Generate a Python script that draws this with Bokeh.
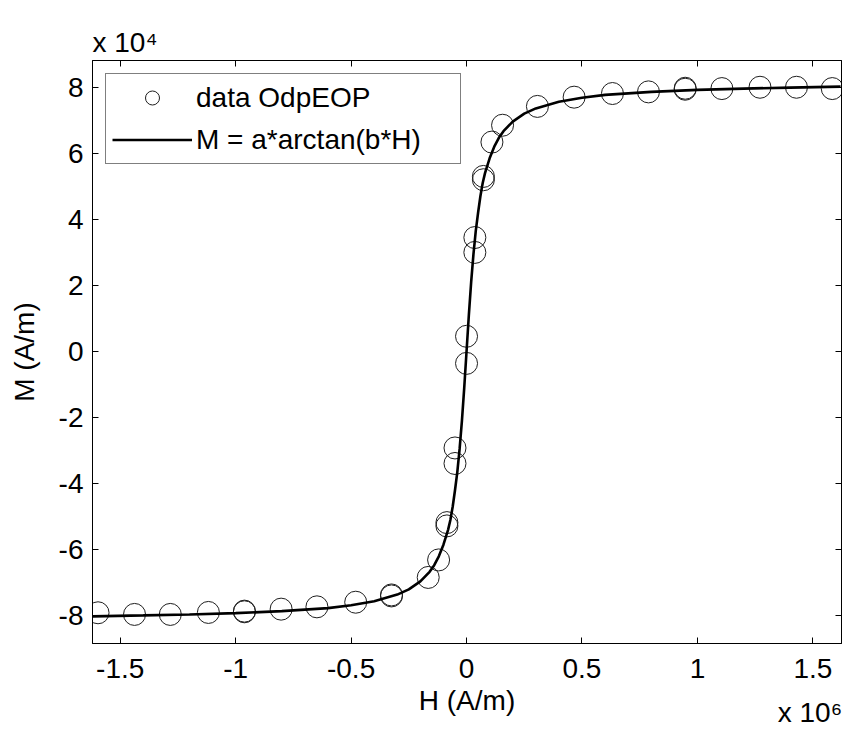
from bokeh.plotting import figure
from bokeh.models import (Range1d, LinearAxis, FixedTicker, Legend, LegendItem,
                          Title, CustomLabelingPolicy)
from bokeh.embed import file_html
from bokeh.resources import INLINE

# Values are in units of 10^6 A/m (H) and 10^4 A/m (M)
SUPERSCRIPT = {"4": "\u2074", "6": "\u2076"}
H_EXPONENT = "6"
M_EXPONENT = "4"

h_data = [-1.596, -1.438, -1.283, -1.118, -0.962, -0.962, -0.803, -0.648, -0.480,
          -0.325, -0.325, -0.166, -0.121, -0.085, -0.085, -0.050, -0.050, 0.0, 0.0,
          0.036, 0.036, 0.073, 0.073, 0.110, 0.156, 0.307, 0.466, 0.632, 0.788,
          0.947, 0.947, 1.106, 1.271, 1.429, 1.584]
m_data = [-7.91, -7.96, -7.96, -7.90, -7.86, -7.88, -7.80, -7.73, -7.59,
          -7.37, -7.40, -6.84, -6.31, -5.18, -5.28, -2.92, -3.39, -0.36, 0.46,
          3.00, 3.45, 5.20, 5.30, 6.34, 6.85, 7.42, 7.70, 7.81, 7.86,
          7.94, 7.97, 7.96, 8.00, 8.00, 7.96]

fit_h = [-1.62, -1.4, -1.2, -1.0, -0.8, -0.6, -0.5, -0.4, -0.3, -0.25, -0.2, -0.16,
         -0.14, -0.12, -0.1, -0.08, -0.07, -0.06, -0.05, -0.04, -0.03, -0.02, -0.01,
         0.0, 0.01, 0.02, 0.03, 0.04, 0.05, 0.06, 0.07, 0.08, 0.1, 0.12, 0.14, 0.16,
         0.2, 0.25, 0.3, 0.4, 0.5, 0.6, 0.8, 1.0, 1.2, 1.4, 1.62]
fit_m = [-8.02, -7.99, -7.96, -7.92, -7.86, -7.77, -7.68, -7.56, -7.36, -7.20, -6.96, -6.67,
         -6.47, -6.20, -5.85, -5.40, -5.10, -4.70, -4.20, -3.65, -2.95, -2.10, -1.10,
         0.0, 1.10, 2.10, 2.95, 3.65, 4.20, 4.70, 5.10, 5.40, 5.85, 6.20, 6.47, 6.67,
         6.96, 7.20, 7.36, 7.56, 7.68, 7.77, 7.86, 7.92, 7.96, 7.99, 8.02]

x_ticks = [-1.5, -1.0, -0.5, 0.0, 0.5, 1.0, 1.5]
x_tick_labels = ["-1.5", "-1", "-0.5", "0", "0.5", "1", "1.5"]
y_ticks = [-8, -6, -4, -2, 0, 2, 4, 6, 8]
y_tick_labels = ["-8", "-6", "-4", "-2", "0", "2", "4", "6", "8"]

X_MIN, X_MAX = -1.62, 1.624
Y_MIN, Y_MAX = -8.84, 8.81
H_EXP_POS = 1.49   # where the "x 10^6" note sits along the H axis

FONT = "Liberation Sans"
FS = "28px"

p = figure(width=842, height=734,
           x_range=Range1d(X_MIN, X_MAX), y_range=Range1d(Y_MIN, Y_MAX),
           output_backend="svg", toolbar_location=None,
           min_border_left=92, min_border_right=1, min_border_top=60, min_border_bottom=91,
           x_axis_label="H (A/m)", y_axis_label="M (A/m)")
p.grid.visible = False
p.outline_line_color = "#000000"
p.outline_line_width = 1
p.background_fill_color = "white"
p.border_fill_color = "white"

sc = p.scatter(h_data, m_data, marker="circle", size=22, fill_color=None,
               line_color="#1e1e1e", line_width=1)
ln = p.line(fit_h, fit_m, line_color="black", line_width=2.6)

hide_labels = CustomLabelingPolicy(code="""
for (const i of Array.from(indices)) { indices.unset(i) }
return indices
""")


def style(ax, ticks, labels, show):
    ax.ticker = FixedTicker(ticks=ticks)
    ax.major_tick_in = 6
    ax.major_tick_out = 0
    ax.minor_tick_line_color = None
    ax.axis_line_color = "#000000"
    ax.major_tick_line_color = "#000000"
    ax.major_label_text_font = FONT
    ax.major_label_text_font_size = FS
    ax.major_label_text_color = "black"
    if show:
        ax.major_label_overrides = {t: l for t, l in zip(ticks, labels)}
    else:
        ax.major_label_overrides = {t: "" for t in ticks}
        ax.major_label_policy = hide_labels
        ax.major_label_standoff = 0
    ax.axis_label_text_font = FONT
    ax.axis_label_text_font_size = FS
    ax.axis_label_text_font_style = "normal"
    ax.axis_label_text_color = "black"


style(p.xaxis[0], x_ticks, x_tick_labels, True)
style(p.yaxis[0], y_ticks, y_tick_labels, True)
p.xaxis[0].major_label_standoff = 15
p.xaxis[0].axis_label_standoff = 4
p.yaxis[0].major_label_standoff = 9
p.yaxis[0].axis_label_standoff = 16

right_ax = LinearAxis()
style(right_ax, y_ticks, y_tick_labels, False)
p.add_layout(right_ax, "right")
top_ax = LinearAxis()
style(top_ax, x_ticks, x_tick_labels, False)
p.add_layout(top_ax, "above")

# the "x 10^6" note of the H axis, on the row of the H axis title
exp_ax = LinearAxis(ticker=FixedTicker(ticks=[H_EXP_POS]),
                    major_label_overrides={H_EXP_POS: "x 10" + SUPERSCRIPT[H_EXPONENT]},
                    major_label_text_font=FONT, major_label_text_font_size=FS,
                    major_label_text_color="black", major_label_standoff=-22,
                    axis_line_color=None, major_tick_line_color=None,
                    minor_tick_line_color=None, major_tick_in=0, major_tick_out=0)
p.add_layout(exp_ax, "below")

legend = Legend(items=[LegendItem(label="data OdpEOP", renderers=[sc]),
                       LegendItem(label="M = a*arctan(b*H)", renderers=[ln])],
                location="top_left", margin=13, padding=6, spacing=7,
                glyph_width=80, glyph_height=35, label_height=35, label_standoff=4,
                label_width=258,
                label_text_font=FONT, label_text_font_size=FS, label_text_color="black",
                border_line_color="black", border_line_width=1,
                background_fill_color="white", background_fill_alpha=1.0)
p.add_layout(legend)

# exponent of the M axis, above the frame
p.add_layout(Title(text="x 10" + SUPERSCRIPT[M_EXPONENT], align="left",
                   text_font=FONT, text_font_size=FS, text_font_style="normal",
                   text_color="black", standoff=6), "above")

open("out.html", "w").write(file_html(p, INLINE))
